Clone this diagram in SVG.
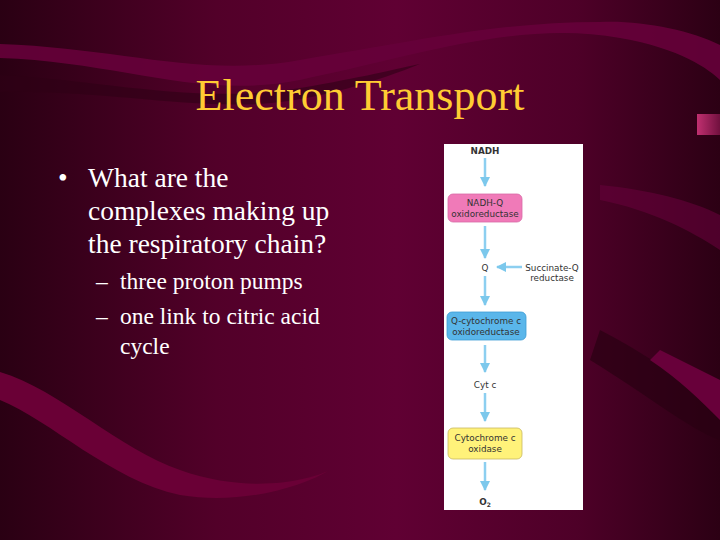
<svg xmlns="http://www.w3.org/2000/svg" width="720" height="540" viewBox="0 0 720 540">
<defs>
<linearGradient id="bg" x1="0" y1="0" x2="1" y2="0">
<stop offset="0" stop-color="#2a0013"/>
<stop offset="0.3" stop-color="#520029"/>
<stop offset="0.55" stop-color="#600033"/>
<stop offset="0.8" stop-color="#4e0028"/>
<stop offset="1" stop-color="#2c0014"/>
</linearGradient>
<linearGradient id="tab" x1="0" y1="0" x2="1" y2="0">
<stop offset="0" stop-color="#c03070"/>
<stop offset="1" stop-color="#70103e"/>
</linearGradient>
<marker id="ah" viewBox="0 0 10 10" refX="9" refY="5" markerWidth="4" markerHeight="4" orient="auto">
<path d="M0,0 L10,5 L0,10 z" fill="#7cc8ec"/>
</marker>
<style>
.t{font-family:"Liberation Serif","Times New Roman",serif;fill:#ffffff}
.s{font-family:"DejaVu Sans","Liberation Sans",sans-serif;fill:#333333;text-anchor:middle;font-size:8.8px}
.c{stroke:#8ccff0;stroke-width:2.5;fill:none;marker-end:url(#ah)}
</style>
</defs>
<rect width="720" height="540" fill="url(#bg)"/>
<!-- swirl bands -->
<path d="M0,58 C120,62 200,100 300,80 C420,55 520,20 620,38 C680,48 710,70 720,80 L720,45 C690,30 640,20 600,22 C500,22 420,40 300,60 C200,78 120,48 0,44 Z" fill="#66003a" opacity="0.9"/>
<path d="M0,75 C100,80 200,105 300,88 C360,78 400,68 420,64 C380,80 320,100 260,104 C180,108 100,90 0,92 Z" fill="#2e0016" opacity="0.6"/>
<path d="M0,372 C60,390 120,450 180,470 C250,495 310,480 330,470 C300,488 240,505 180,495 C110,480 50,420 0,400 Z" fill="#6a0036"/>
<path d="M590,360 C640,390 690,430 720,440 L720,400 C680,380 640,350 600,330 Z" fill="#2a0013" opacity="0.7"/>
<path d="M650,360 C680,380 700,400 720,420 L720,380 C700,370 680,360 660,350 Z" fill="#68003a"/>
<path d="M600,200 C650,210 690,230 720,250 L720,215 C690,200 650,190 600,185 Z" fill="#66003a" opacity="0.6"/>
<rect x="697" y="114" width="23" height="21" fill="url(#tab)"/>
<!-- title -->
<text x="360" y="110" text-anchor="middle" font-family="Liberation Serif, Times New Roman, serif" font-size="44" fill="#ffcc33">Electron Transport</text>
<!-- bullets -->
<g class="t" font-size="27.5">
<text x="58" y="187">•</text>
<text x="88" y="187">What are the</text>
<text x="88" y="220">complexes making up</text>
<text x="88" y="253">the respiratory chain?</text>
</g>
<g class="t" font-size="23.5">
<text x="96" y="289">–</text>
<text x="120" y="289">three proton pumps</text>
<text x="96" y="324">–</text>
<text x="120" y="324">one link to citric acid</text>
<text x="120" y="354">cycle</text>
</g>
<!-- panel -->
<rect x="444" y="144" width="139" height="366" fill="#ffffff"/>
<g id="connectors">
<line class="c" x1="485" y1="158" x2="485" y2="186"/>
<line class="c" x1="485" y1="226" x2="485" y2="258"/>
<line class="c" x1="522" y1="267" x2="497" y2="267"/>
<line class="c" x1="485" y1="276" x2="485" y2="305"/>
<line class="c" x1="485" y1="345" x2="485" y2="372"/>
<line class="c" x1="485" y1="393" x2="485" y2="421"/>
<line class="c" x1="485" y1="462" x2="485" y2="490"/>
</g>
<g id="nadh"><text class="s" x="485" y="154" font-weight="bold">NADH</text></g>
<g id="complex1">
<rect x="448" y="194" width="74" height="28" rx="5" fill="#f07ab8" stroke="#d86aa6" stroke-width="0.8"/>
<text class="s" x="485" y="206">NADH-Q</text>
<text class="s" x="485" y="217">oxidoreductase</text>
</g>
<g id="q"><text class="s" x="485" y="271">Q</text></g>
<g id="complex2">
<text class="s" x="552" y="271">Succinate-Q</text>
<text class="s" x="552" y="281">reductase</text>
</g>
<g id="complex3">
<rect x="447" y="312" width="79" height="28" rx="5" fill="#5ab6ea" stroke="#3c9cd4" stroke-width="0.8"/>
<text class="s" x="486" y="324">Q-cytochrome c</text>
<text class="s" x="486" y="335">oxidoreductase</text>
</g>
<g id="cytc"><text class="s" x="485" y="388">Cyt c</text></g>
<g id="complex4">
<rect x="448" y="428" width="74" height="31" rx="5" fill="#fff27a" stroke="#c8b860" stroke-width="0.8"/>
<text class="s" x="485" y="441">Cytochrome c</text>
<text class="s" x="485" y="452">oxidase</text>
</g>
<g id="o2"><text class="s" x="485" y="505" font-weight="bold">O<tspan font-size="6" dy="2">2</tspan></text></g>
</svg>
